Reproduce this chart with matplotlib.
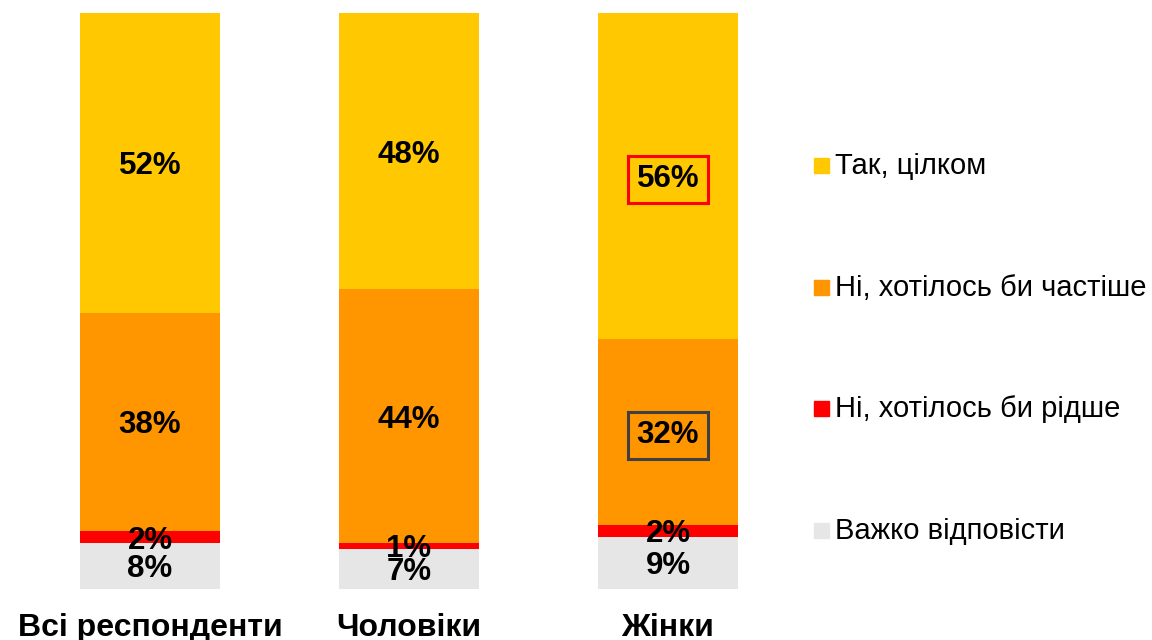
import matplotlib
matplotlib.use("Agg")
import matplotlib.pyplot as plt
from matplotlib.patches import Rectangle
import numpy as np

plt.rcParams['font.family'] = ['Liberation Sans', 'DejaVu Sans']

categories = ["Всі респонденти", "Чоловіки", "Жінки"]
series_names = ["Важко відповісти", "Ні, хотілось би рідше", "Ні, хотілось би частіше", "Так, цілком"]
hard_to_say = [8, 7, 9]
less_often = [2, 1, 2]
more_often = [38, 44, 32]
fully_yes = [52, 48, 56]
colors = ["#E6E6E6", "#FF0000", "#FF9600", "#FFC800"]

values = np.array([hard_to_say, less_often, more_often, fully_yes], dtype=float)
totals = values.sum(axis=0)
shares = values / totals * 100

fig = plt.figure(figsize=(11.52, 6.4), dpi=100)
ax = fig.add_axes([20.5 / 1152, 51 / 640, 777 / 1152, 576 / 640])
x = np.arange(len(categories))
bottom = np.zeros(len(categories))
for i, (name, col) in enumerate(zip(series_names, colors)):
    ax.bar(x, shares[i], bottom=bottom, width=0.54, color=col, label=name)
    for j in range(len(categories)):
        kw = {}
        if i == 3 and j == 2:
            kw = dict(bbox=dict(boxstyle="square,pad=0.28", fc="none", ec="#FF0000", lw=2.2))
        if i == 2 and j == 2:
            kw = dict(bbox=dict(boxstyle="square,pad=0.28", fc="none", ec="#404040", lw=2.2))
        ax.text(x[j], bottom[j] + shares[i][j] / 2, f"{int(values[i][j])}%",
                ha="center", va="center_baseline", fontsize=22.5, fontweight="bold",
                color="black", **kw)
    bottom += shares[i]

ax.set_xlim(-0.5, 2.5)
ax.set_ylim(0, 100)
ax.set_xticks(x)
ax.set_xticklabels(categories, fontsize=23, fontweight="bold")
ax.tick_params(axis="x", length=0, pad=17)
ax.set_yticks([])
for s in ax.spines.values():
    s.set_visible(False)

# legend (top-to-bottom: reversed stack order)
legend_y = [165, 287, 408, 530]
for k, idx in enumerate(reversed(range(len(series_names)))):
    yc = 640 - legend_y[k]
    fig.patches.append(Rectangle((814 / 1152, (yc - 7.5) / 640), 15 / 1152, 15 / 640,
                                 transform=fig.transFigure, color=colors[idx]))
    fig.text(835 / 1152, (yc - 1) / 640, series_names[idx], fontsize=21, va="center", ha="left")

fig.savefig("out.png", dpi=100)
